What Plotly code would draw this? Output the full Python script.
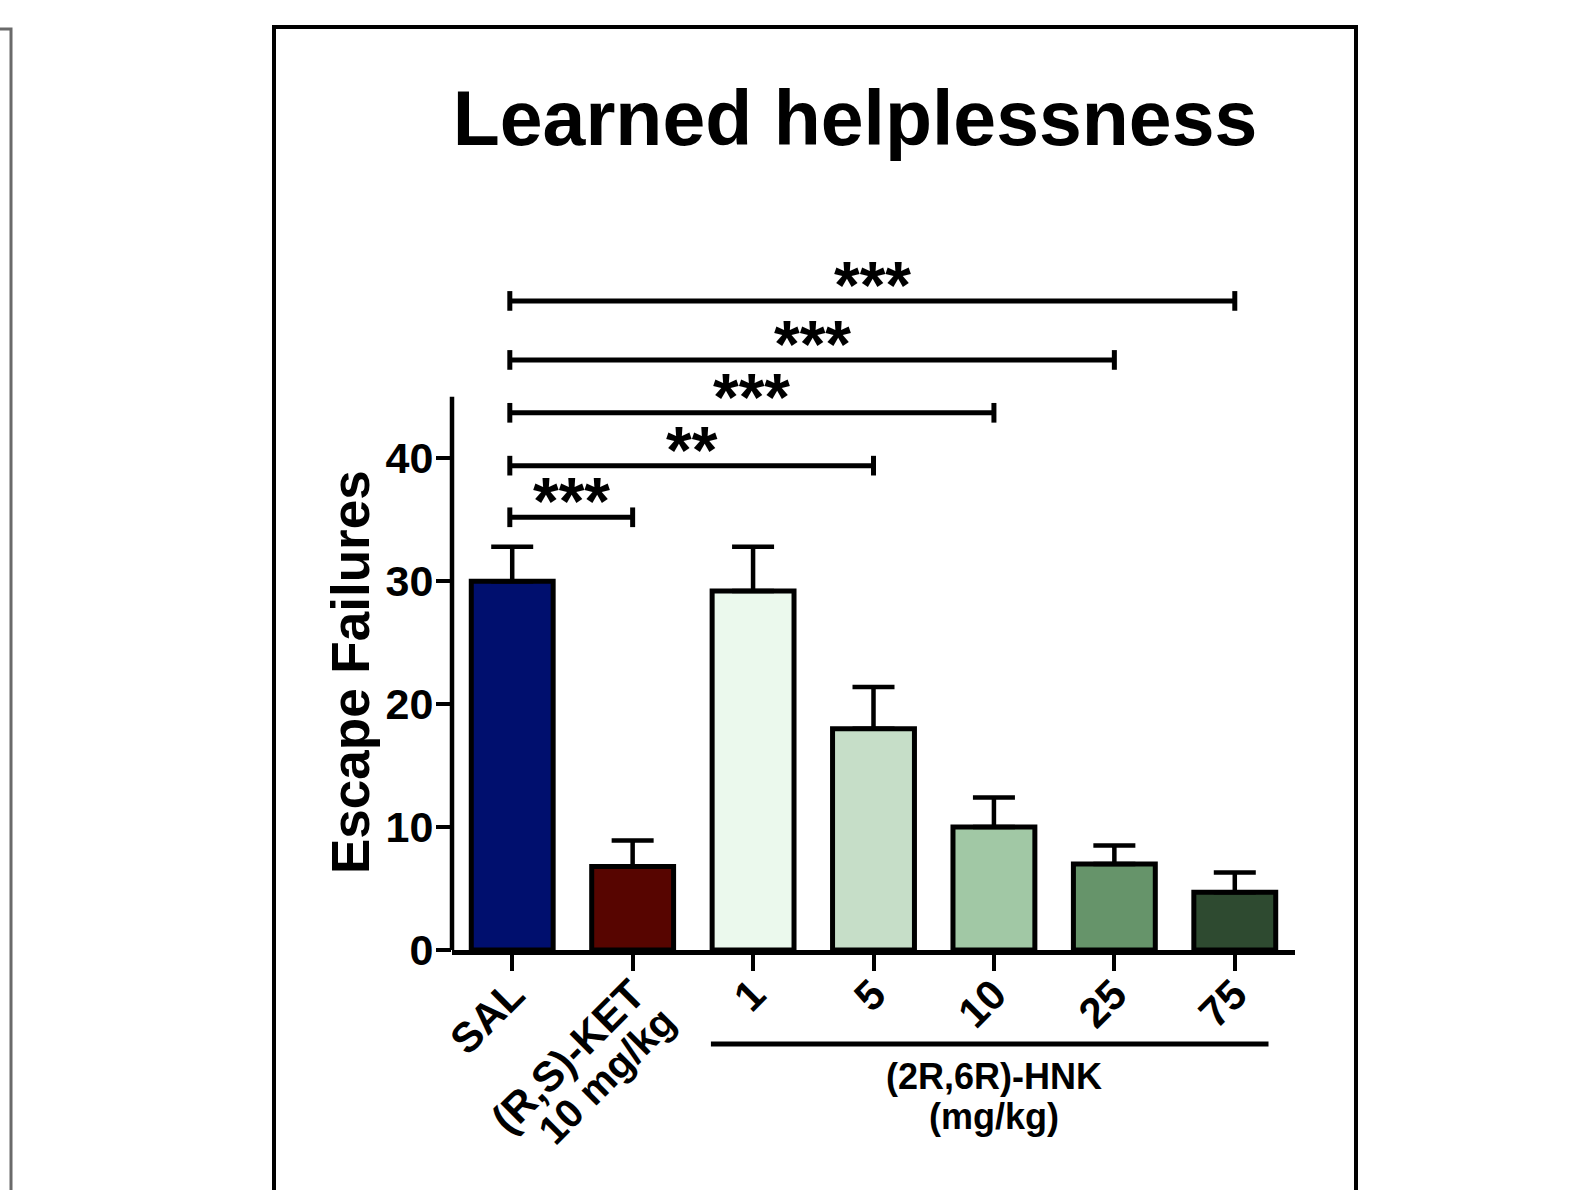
import plotly.graph_objects as go

# ---- data ----
categories = ["SAL", "(R,S)-KET", "1", "5", "10", "25", "75"]
ket_dose_label = "10 mg/kg"
means = [30.0, 6.8, 29.2, 18.0, 10.0, 7.0, 4.7]
sem_upper = [2.8, 2.1, 3.6, 3.4, 2.4, 1.5, 1.6]
bar_colors = ["#000F6E", "#570500", "#EBF9ED", "#C6DEC8", "#A1C8A5", "#66946A", "#2E4A30"]

# significance comparisons vs SAL: (target index, bracket height, label)
sig_targets = [1, 3, 4, 5, 6]
sig_heights = [35.2, 39.4, 43.7, 48.0, 52.8]
sig_labels = ["***", "**", "***", "***", "***"]

group_label_lines = ["(2R,6R)-HNK", "(mg/kg)"]
y_ticks = [0, 10, 20, 30, 40]
y_axis_top = 45

FONT = "Liberation Sans, Arial, sans-serif"
W, H = 1571, 1190
L, R, T, B = 452, 276, 237, 240
PW, PH = W - L - R, H - T - B
YMAX = 58

x_idx = list(range(len(categories)))

fig = go.Figure()
fig.add_trace(go.Bar(
    x=x_idx, y=means, width=0.68,
    marker=dict(color=bar_colors, line=dict(color="black", width=5)),
    error_y=dict(type="data", symmetric=False, array=sem_upper,
                 arrayminus=[0] * len(means), color="black", thickness=4.5, width=21),
    showlegend=False, hoverinfo="skip",
))

shapes = []
annotations = []
cap = 0.8
for tgt, h, lab in zip(sig_targets, sig_heights, sig_labels):
    x0, x1 = 0 - 0.02, tgt
    shapes.append(dict(type="line", xref="x", yref="y", x0=x0, x1=x1, y0=h, y1=h,
                       line=dict(color="black", width=5)))
    for xx in (x0, x1):
        shapes.append(dict(type="line", xref="x", yref="y", x0=xx, x1=xx,
                           y0=h - cap, y1=h + cap, line=dict(color="black", width=5)))
    annotations.append(dict(x=(x0 + x1) / 2, y=h, xref="x", yref="y", text=lab,
                            showarrow=False, yanchor="bottom", yshift=-23,
                            font=dict(family=FONT, size=66, color="black", weight="bold")))

# y axis line (drawn to 45 only)
shapes.append(dict(type="line", xref="paper", yref="y", x0=0, x1=0, y0=0, y1=y_axis_top,
                   line=dict(color="black", width=4.5)))


def py(pix):
    return (H - B - pix) / PH


def px(pix):
    return (pix - L) / PW


# second line of the ketamine tick label (tight line spacing)
annotations.append(dict(x=1 - 0.22, y=py(1076), xref="x", yref="paper",
                        text=ket_dose_label, textangle=-45, showarrow=False,
                        xanchor="center", yanchor="middle",
                        font=dict(family=FONT, size=40, color="black", weight="bold")))

# group bracket under HNK doses
shapes.append(dict(type="line", xref="x", yref="paper", x0=2 - 0.35, x1=6 + 0.28,
                   y0=py(1044), y1=py(1044), line=dict(color="black", width=5)))
for i, (line_txt, ypix) in enumerate(zip(group_label_lines, [1076, 1116])):
    annotations.append(dict(x=4, y=py(ypix), xref="x", yref="paper", text=line_txt,
                            showarrow=False, yanchor="middle", xanchor="center",
                            font=dict(family=FONT, size=36, color="black", weight="bold")))

# y axis title
annotations.append(dict(x=px(350), y=py(672), xref="paper", yref="paper",
                        text="Escape Failures", textangle=-90, showarrow=False,
                        xanchor="center", yanchor="middle",
                        font=dict(family=FONT, size=53, color="black", weight="bold")))

# frames
shapes.append(dict(type="rect", xref="paper", yref="paper",
                   x0=px(274), x1=px(1356), y0=py(1250), y1=py(27),
                   line=dict(color="black", width=4), fillcolor="rgba(0,0,0,0)"))
shapes.append(dict(type="rect", xref="paper", yref="paper",
                   x0=px(-80), x1=px(11), y0=py(1250), y1=py(29),
                   line=dict(color="#6a6a6a", width=3), fillcolor="rgba(0,0,0,0)"))

fig.update_layout(
    width=W, height=H,
    margin=dict(l=L, r=R, t=T, b=B, pad=0, autoexpand=False),
    paper_bgcolor="white", plot_bgcolor="white",
    title=dict(text="Learned helplessness", x=855 / W, y=1 - 118 / H,
               xanchor="center", yanchor="middle", xref="container", yref="container",
               font=dict(family=FONT, size=77, color="black", weight="bold")),
    xaxis=dict(range=[-0.5, 6.5], tickmode="array", tickvals=x_idx, ticktext=categories,
               tickangle=-45, ticks="outside", ticklen=16, tickwidth=4, tickcolor="black",
               ticklabelstandoff=-18, automargin=False,
               showline=True, linecolor="black", linewidth=5, showgrid=False, zeroline=False,
               tickfont=dict(family=FONT, size=42, color="black", weight="bold")),
    yaxis=dict(range=[0, YMAX], tickmode="array", tickvals=y_ticks,
               ticks="outside", ticklen=15, tickwidth=4, tickcolor="black",
               ticklabelstandoff=-6, automargin=False,
               showline=False, showgrid=False, zeroline=False,
               tickfont=dict(family=FONT, size=43, color="black", weight="bold")),
    shapes=shapes, annotations=annotations,
    showlegend=False,
)

fig.write_html("out.html")
